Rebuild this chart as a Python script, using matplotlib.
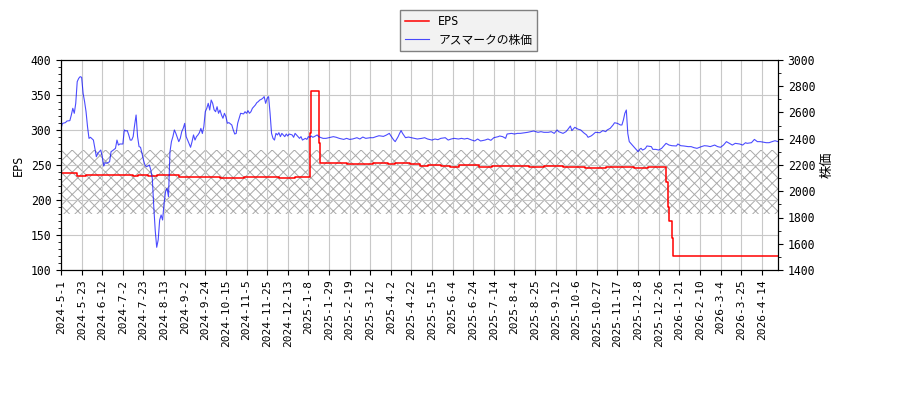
import numpy as np
import matplotlib
matplotlib.use('Agg')
from matplotlib import pyplot as plt
from matplotlib.ticker import MultipleLocator

# === dados ===
n_dias = 488  # pregoes no eixo x (indice 0..487)
rotulos_x = ["2024-5-1", "2024-5-23", "2024-6-12", "2024-7-2", "2024-7-23", "2024-8-13",
             "2024-9-2", "2024-9-24", "2024-10-15", "2024-11-5", "2024-11-25", "2024-12-13",
             "2025-1-8", "2025-1-29", "2025-2-19", "2025-3-12", "2025-4-2", "2025-4-22",
             "2025-5-15", "2025-6-4", "2025-6-24", "2025-7-14", "2025-8-4", "2025-8-25",
             "2025-9-12", "2025-10-6", "2025-10-27", "2025-11-17", "2025-12-8", "2025-12-26",
             "2026-1-21", "2026-2-10", "2026-3-4", "2026-3-25", "2026-4-14"]
passo_x = 14

# EPS (degraus): indice do pregao onde muda, valor
eps_idx = [0, 11, 17, 33, 36, 49, 52, 59, 62, 65, 80, 101, 108, 117, 124, 133, 148, 159,
           169, 170, 175, 176, 194, 212, 222, 227, 231, 237, 244, 249, 258, 264, 270, 284,
           293, 318, 328, 341, 356, 370, 380, 389, 399, 411, 412, 413, 415, 416, 487]
eps_val = [238, 234.5, 235.2, 236.3, 235.2, 233.8, 235.2, 234.3, 234.8, 235.2, 233.3, 232.4,
           231.5, 231, 232.4, 233, 231.4, 232.4,
           295, 356, 281, 252.4, 251.5, 253.3, 251.5, 252.4, 253.3, 251, 248.6, 250, 248.6,
           246.7, 250, 247.6, 248.6, 246.7, 248, 246.7, 245.5, 247.6, 246.7, 245.7, 246.7,
           226, 190, 170.5, 145, 120.5, 120.5]

# preco da acao
preco_idx = [0, 1, 3, 4, 6, 7, 8, 9, 10, 11, 12, 13, 14, 15, 16, 17, 18, 19, 20, 22, 23, 24,
             25, 27, 28, 29, 30, 31, 33, 34, 35, 37, 38, 39, 40, 42, 43, 44, 45, 46, 47, 48,
             49, 50, 51, 52, 53, 54, 55, 56, 57, 58, 59, 60, 61, 62, 63, 64, 65, 66, 67, 68,
             69, 70, 71, 72, 73, 74, 75, 76, 77, 78, 80, 81, 82, 83, 84, 85, 86, 88, 89, 90,
             91, 92, 93, 94,
             95, 96, 97, 98, 99, 100, 101, 102, 103, 104, 105, 106, 107, 108, 109, 110, 111,
             112, 113, 114, 116, 117, 118, 119, 120, 121, 122, 124, 125, 126, 127, 128, 129,
             130, 131, 132, 133, 134, 135, 136, 137, 138, 139, 140, 141, 142, 143, 144, 145,
             146, 147, 148, 149, 150, 151, 152, 153, 154, 155, 157, 158, 159, 160, 161, 162,
             163, 164, 166, 167, 168, 169, 170, 171, 172, 174, 175, 176, 178, 180, 183, 185,
             187, 189, 192, 194, 196,
             198, 201, 203, 205, 207, 210, 212, 214, 216, 219, 221, 223, 224, 226, 227, 229,
             230, 231, 232, 234, 236, 238, 240, 242, 245, 247, 249, 252, 254, 256, 258, 261,
             263, 265, 267, 270, 272, 274, 276, 279, 281, 283, 285, 288, 290, 292, 294, 297,
             298, 300, 302, 303, 306, 308, 310, 312, 315, 317, 319, 321, 324, 326, 328, 331,
             333, 335, 337, 338, 341, 343, 344, 346, 347, 349, 351, 353, 355, 357, 358, 360,
             361, 363, 366, 368, 370, 371, 373, 375, 376, 378, 380, 381, 382, 383, 384, 385,
             386, 387, 388, 389, 390, 392, 393, 394, 395, 396, 397, 398, 401, 402, 404, 406,
             408, 410, 411, 413, 415, 418, 419, 421, 423, 426, 428, 430, 432, 435, 437, 439,
             441, 444, 446, 448, 450, 452, 454, 456, 458, 461, 463, 465, 466, 469, 471, 473,
             475, 479, 481, 483, 485, 487]
preco_val = [2479, 2517, 2523, 2535, 2538, 2581, 2632, 2594, 2670, 2835, 2860, 2873, 2868,
             2746, 2683, 2606, 2492, 2403, 2411, 2390, 2327, 2263, 2289, 2314, 2263, 2192,
             2218, 2213, 2225, 2302, 2309, 2327, 2390, 2352, 2360, 2360, 2467, 2459, 2462,
             2429, 2390, 2390, 2416, 2505, 2581, 2416, 2340, 2335, 2289, 2238, 2200, 2187,
             2192, 2200, 2162, 2098, 1883, 1700, 1573, 1629, 1781, 1819, 1781, 1908, 1997,
             2022, 1959, 2300, 2378, 2416, 2467, 2441, 2378, 2403, 2454, 2479, 2517, 2416,
             2390, 2335, 2378, 2429, 2390, 2416, 2429, 2446,
             2479, 2440, 2492, 2606, 2632, 2670, 2619, 2695, 2670, 2620, 2606, 2644, 2594,
             2619, 2581, 2556, 2594, 2568, 2518, 2523, 2505, 2467, 2436, 2441, 2518, 2556,
             2594, 2589, 2606, 2594, 2614, 2594, 2606, 2632, 2645, 2657, 2675, 2683, 2695,
             2700, 2708, 2721, 2670, 2708, 2721, 2594, 2441, 2403, 2390, 2441, 2429, 2446,
             2416, 2441, 2429, 2416, 2436, 2421, 2436, 2429, 2411, 2441, 2429, 2416, 2403,
             2416, 2390, 2403, 2395, 2416, 2411, 2421, 2411, 2416, 2429, 2416, 2411, 2403,
             2403, 2411, 2416, 2411, 2403, 2395, 2403, 2395,
             2398, 2408, 2398, 2413, 2403, 2408, 2408, 2416, 2423, 2418, 2428, 2441, 2423,
             2390, 2378, 2416, 2441, 2462, 2441, 2408, 2413, 2408, 2403, 2398, 2403, 2408,
             2398, 2390, 2398, 2393, 2403, 2408, 2390, 2398, 2403, 2398, 2403, 2398, 2403,
             2390, 2383, 2398, 2383, 2390, 2398, 2388, 2408, 2416,
             2421, 2416, 2403, 2436, 2441, 2436, 2441, 2441, 2446, 2449, 2454, 2459, 2449,
             2454, 2449, 2449, 2454, 2441, 2467, 2454, 2441, 2454, 2467, 2497, 2462, 2487,
             2474, 2467, 2446, 2429, 2411, 2421, 2429, 2449, 2446, 2462, 2454, 2467, 2479,
             2505, 2522, 2517, 2505, 2505, 2543, 2594, 2619, 2440, 2378, 2365, 2352, 2340,
             2327, 2302, 2319, 2327, 2314, 2319, 2327, 2345, 2340, 2319, 2319, 2314,
             2327, 2352, 2365, 2352, 2347, 2345, 2360, 2347, 2345, 2340, 2340, 2332, 2327,
             2340, 2347, 2345, 2340, 2352, 2340, 2335, 2352, 2378, 2365, 2352, 2365, 2360,
             2352, 2370, 2365, 2370, 2395, 2378, 2378, 2370, 2370, 2378, 2385, 2378]

# faixa hachurada (eixo EPS)
faixa_min, faixa_max = 180, 271

# === grafico ===
plt.rcParams['font.family'] = ['DejaVu Sans Mono', 'Noto Sans CJK JP']
plt.rcParams['hatch.linewidth'] = 0.7

fig = plt.figure(figsize=(9, 4), dpi=100)
ax = fig.add_axes([0.0678, 0.325, 0.7966, 0.525])
ax2 = ax.twinx()

ax.fill_between([0, n_dias - 1], faixa_min, faixa_max, hatch='xxx', facecolor='none',
                edgecolor='#aaaaaa', linewidth=0, zorder=1)
l1, = ax.plot(eps_idx, eps_val, drawstyle='steps-post', color='red', lw=1.1, label='EPS')
l2, = ax2.plot(preco_idx, preco_val, color='blue', alpha=0.7, lw=0.8, label='アスマークの株価')

ax.set_xlim(0, n_dias - 1)
ax.set_ylim(100, 400)
ax2.set_ylim(1400, 3000)
ax.set_xticks(np.arange(0, len(rotulos_x) * passo_x, passo_x))
ax.set_xticklabels(rotulos_x, rotation=90, fontsize=8)
ax.yaxis.set_major_locator(MultipleLocator(50))
ax.yaxis.set_minor_locator(MultipleLocator(10))
ax2.yaxis.set_major_locator(MultipleLocator(200))
ax2.yaxis.set_minor_locator(MultipleLocator(100))
ax.tick_params(axis='y', labelsize=8.3)
ax2.tick_params(axis='y', labelsize=8.3)
ax.grid(True, color='#c8c8c8', lw=0.8)
ax.set_ylabel('EPS', fontsize=8.5)
ax2.set_ylabel('株価', fontsize=9.5)

fig.legend(handles=[l1, l2], loc='upper center', bbox_to_anchor=(0.5206, 0.975),
           borderaxespad=0, fontsize=8.5, fancybox=False, framealpha=1,
           facecolor='#f2f2f2', edgecolor='#808080')

plt.savefig('out.png')
